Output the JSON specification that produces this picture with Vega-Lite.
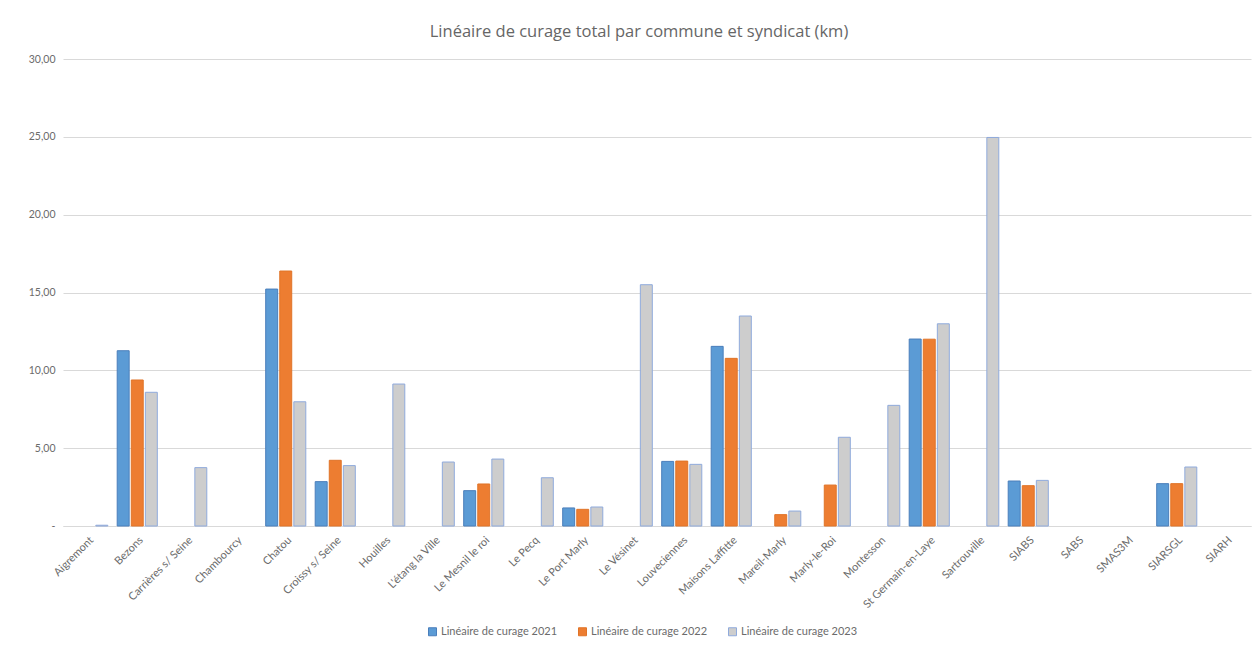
{
  "$schema": "https://vega.github.io/schema/vega-lite/v6.json",
  "autosize": {"type": "none"},
  "width": 1188,
  "height": 467,
  "padding": {"left": 63, "top": 59, "right": 2, "bottom": 120},
  "background": "white",
  "title": {
    "text": "Linéaire de curage total par commune et syndicat (km)",
    "font": "Open Sans",
    "fontSize": 16.5,
    "fontWeight": "normal",
    "color": "#666666",
    "anchor": "middle",
    "dx": -18,
    "offset": 14
  },
  "data": {
    "values": [
      {"commune": "Aigremont", "serie": "Linéaire de curage  2023", "km": 0.05},
      {"commune": "Bezons", "serie": "Linéaire de curage  2021", "km": 11.26},
      {"commune": "Bezons", "serie": "Linéaire de curage  2022", "km": 9.38},
      {"commune": "Bezons", "serie": "Linéaire de curage  2023", "km": 8.59},
      {"commune": "Carrières s/ Seine", "serie": "Linéaire de curage  2023", "km": 3.75},
      {"commune": "Chatou", "serie": "Linéaire de curage  2021", "km": 15.22},
      {"commune": "Chatou", "serie": "Linéaire de curage  2022", "km": 16.38},
      {"commune": "Chatou", "serie": "Linéaire de curage  2023", "km": 7.98},
      {"commune": "Croissy s/ Seine", "serie": "Linéaire de curage  2021", "km": 2.85},
      {"commune": "Croissy s/ Seine", "serie": "Linéaire de curage  2022", "km": 4.22},
      {"commune": "Croissy s/ Seine", "serie": "Linéaire de curage  2023", "km": 3.88},
      {"commune": "Houilles", "serie": "Linéaire de curage  2023", "km": 9.12},
      {"commune": "L'étang la Ville", "serie": "Linéaire de curage  2023", "km": 4.11},
      {"commune": "Le Mesnil le roi", "serie": "Linéaire de curage  2021", "km": 2.27},
      {"commune": "Le Mesnil le roi", "serie": "Linéaire de curage  2022", "km": 2.7},
      {"commune": "Le Mesnil le roi", "serie": "Linéaire de curage  2023", "km": 4.3},
      {"commune": "Le Pecq", "serie": "Linéaire de curage  2023", "km": 3.1},
      {"commune": "Le Port Marly", "serie": "Linéaire de curage  2021", "km": 1.16},
      {"commune": "Le Port Marly", "serie": "Linéaire de curage  2022", "km": 1.07},
      {"commune": "Le Port Marly", "serie": "Linéaire de curage  2023", "km": 1.22},
      {"commune": "Le Vésinet", "serie": "Linéaire de curage  2023", "km": 15.5},
      {"commune": "Louveciennes", "serie": "Linéaire de curage  2021", "km": 4.15},
      {"commune": "Louveciennes", "serie": "Linéaire de curage  2022", "km": 4.17},
      {"commune": "Louveciennes", "serie": "Linéaire de curage  2023", "km": 3.96},
      {"commune": "Maisons Laffitte", "serie": "Linéaire de curage  2021", "km": 11.54},
      {"commune": "Maisons Laffitte", "serie": "Linéaire de curage  2022", "km": 10.77},
      {"commune": "Maisons Laffitte", "serie": "Linéaire de curage  2023", "km": 13.49},
      {"commune": "Mareil-Marly", "serie": "Linéaire de curage  2022", "km": 0.73},
      {"commune": "Mareil-Marly", "serie": "Linéaire de curage  2023", "km": 0.96},
      {"commune": "Marly-le-Roi", "serie": "Linéaire de curage  2022", "km": 2.63},
      {"commune": "Marly-le-Roi", "serie": "Linéaire de curage  2023", "km": 5.7},
      {"commune": "Montesson", "serie": "Linéaire de curage  2023", "km": 7.75},
      {"commune": "St Germain-en-Laye", "serie": "Linéaire de curage  2021", "km": 12.01},
      {"commune": "St Germain-en-Laye", "serie": "Linéaire de curage  2022", "km": 12.0},
      {"commune": "St Germain-en-Laye", "serie": "Linéaire de curage  2023", "km": 12.99},
      {"commune": "Sartrouville", "serie": "Linéaire de curage  2023", "km": 24.96},
      {"commune": "SIABS", "serie": "Linéaire de curage  2021", "km": 2.89},
      {"commune": "SIABS", "serie": "Linéaire de curage  2022", "km": 2.59},
      {"commune": "SIABS", "serie": "Linéaire de curage  2023", "km": 2.93},
      {"commune": "SIARSGL", "serie": "Linéaire de curage  2021", "km": 2.72},
      {"commune": "SIARSGL", "serie": "Linéaire de curage  2022", "km": 2.72},
      {"commune": "SIARSGL", "serie": "Linéaire de curage  2023", "km": 3.79}
    ]
  },
  "mark": {"type": "bar", "strokeWidth": 1},
  "encoding": {
    "x": {
      "field": "commune",
      "type": "nominal",
      "scale": {
        "domain": ["Aigremont", "Bezons", "Carrières s/ Seine", "Chambourcy", "Chatou", "Croissy s/ Seine", "Houilles", "L'étang la Ville", "Le Mesnil le roi", "Le Pecq", "Le Port Marly", "Le Vésinet", "Louveciennes", "Maisons Laffitte", "Mareil-Marly", "Marly-le-Roi", "Montesson", "St Germain-en-Laye", "Sartrouville", "SIABS", "SABS", "SMAS3M", "SIARSGL", "SIARH"],
        "paddingInner": 0.19,
        "paddingOuter": 0.095
      },
      "axis": {
        "title": null,
        "labelAngle": -45,
        "labelFont": "Lato",
        "labelFontSize": 11,
        "labelColor": "#6b6b6b",
        "labelPadding": 8,
        "ticks": false,
        "domainColor": "#D9D9D9",
        "grid": false
      }
    },
    "xOffset": {
      "field": "serie",
      "type": "nominal",
      "scale": {"paddingInner": 0.15, "paddingOuter": 0}
    },
    "y": {
      "field": "km",
      "type": "quantitative",
      "scale": {"domain": [0, 30]},
      "axis": {
        "title": null,
        "values": [0, 5, 10, 15, 20, 25, 30],
        "labelExpr": "datum.value == 0 ? '-' : replace(format(datum.value, '.2f'), '.', ',')",
        "labelFont": "Lato",
        "labelFontSize": 10.5,
        "labelColor": "#6b6b6b",
        "labelPadding": 8,
        "ticks": false,
        "domain": false,
        "gridColor": "#D9D9D9",
        "gridWidth": 1
      }
    },
    "fill": {
      "field": "serie",
      "type": "nominal",
      "scale": {
        "domain": ["Linéaire de curage  2021", "Linéaire de curage  2022", "Linéaire de curage  2023"],
        "range": ["#5B9BD5", "#ED7D31", "#CDCDCD"]
      },
      "legend": {
        "title": null,
        "orient": "none",
        "direction": "horizontal",
        "legendX": 364,
        "legendY": 567,
        "symbolType": "square",
        "symbolSize": 64,
        "symbolStrokeWidth": 1,
        "labelFont": "Lato",
        "labelFontSize": 11,
        "labelColor": "#6b6b6b",
        "columnPadding": 16,
        "labelOffset": 3
      }
    },
    "stroke": {
      "field": "serie",
      "type": "nominal",
      "scale": {
        "domain": ["Linéaire de curage  2021", "Linéaire de curage  2022", "Linéaire de curage  2023"],
        "range": ["#4A7EBB", "#E07428", "#8FAADC"]
      },
      "legend": null
    }
  },
  "config": {
    "view": {"stroke": null},
    "font": "Lato"
  }
}
